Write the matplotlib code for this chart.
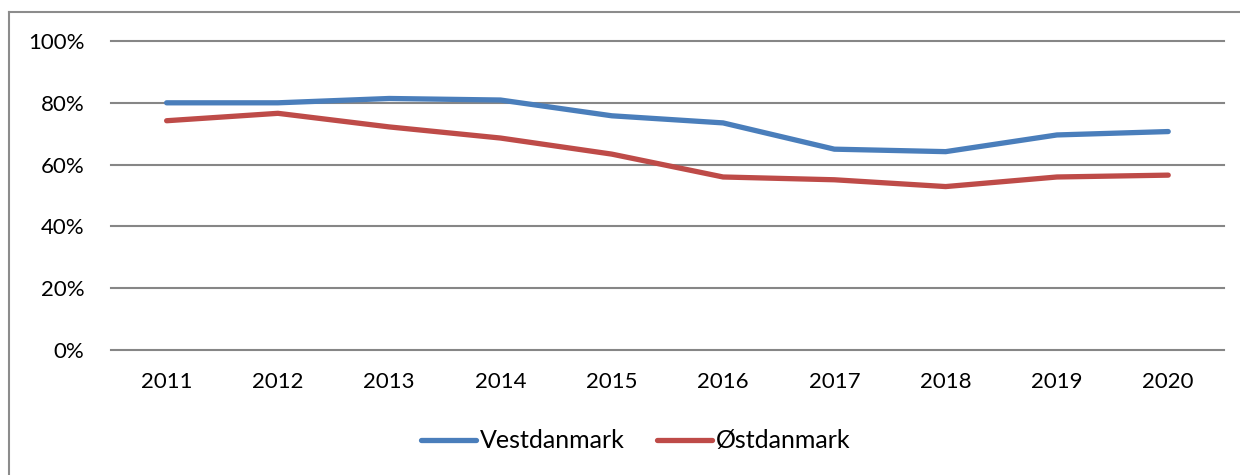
import numpy as np
import matplotlib.pyplot as plt
from matplotlib.lines import Line2D
from matplotlib.ticker import PercentFormatter

plt.rcParams['font.family'] = ['Lato', 'DejaVu Sans']

years = ["2011", "2012", "2013", "2014", "2015", "2016", "2017", "2018", "2019", "2020"]
vest = [0.800, 0.800, 0.814, 0.809, 0.758, 0.735, 0.650, 0.642, 0.696, 0.707]
oest = [0.742, 0.766, 0.722, 0.686, 0.634, 0.560, 0.551, 0.529, 0.560, 0.566]
yticks = [0, 0.2, 0.4, 0.6, 0.8, 1.0]

blue = "#4A7EBB"
red = "#BE4B48"
grid_col = "#868686"

fig = plt.figure(figsize=(12.4, 4.75), dpi=100)
ax = fig.add_axes([0.0895, 0.263, 0.8975, 0.6507])

x = np.arange(len(years))
ax.plot(x, vest, color=blue, lw=3.8, solid_capstyle="round", label="Vestdanmark", zorder=3)
ax.plot(x, oest, color=red, lw=3.8, solid_capstyle="round", label="Østdanmark", zorder=3)

ax.set_xlim(-0.5, len(years) - 0.5)
ax.set_ylim(0, 1)
ax.set_yticks(yticks)
ax.yaxis.set_major_formatter(PercentFormatter(1.0, decimals=0))
ax.set_xticks(x)
ax.set_xticklabels(years)
ax.grid(axis="y", color=grid_col, lw=1.5)
for gl in ax.get_ygridlines():
    gl.set_clip_on(False)
ax.set_axisbelow(True)
for s in ax.spines.values():
    s.set_visible(False)
ax.tick_params(length=0, labelsize=16, colors="black")
ax.tick_params(axis="y", pad=19)
ax.tick_params(axis="x", pad=16)

leg = fig.legend(loc="center", bbox_to_anchor=(0.513, 0.072), ncol=2, frameon=False,
                 fontsize=18, handlelength=2.2, handletextpad=0.15, columnspacing=1.3)

# outer chart border (cut off at right and bottom)
fig.add_artist(Line2D([9 / 1240, 9 / 1240], [0, 1 - 12 / 475], color="#8c8c8c", lw=1.5))
fig.add_artist(Line2D([9 / 1240, 1], [1 - 12 / 475, 1 - 12 / 475], color="#8c8c8c", lw=1.5))

fig.savefig("out.png", dpi=100)
